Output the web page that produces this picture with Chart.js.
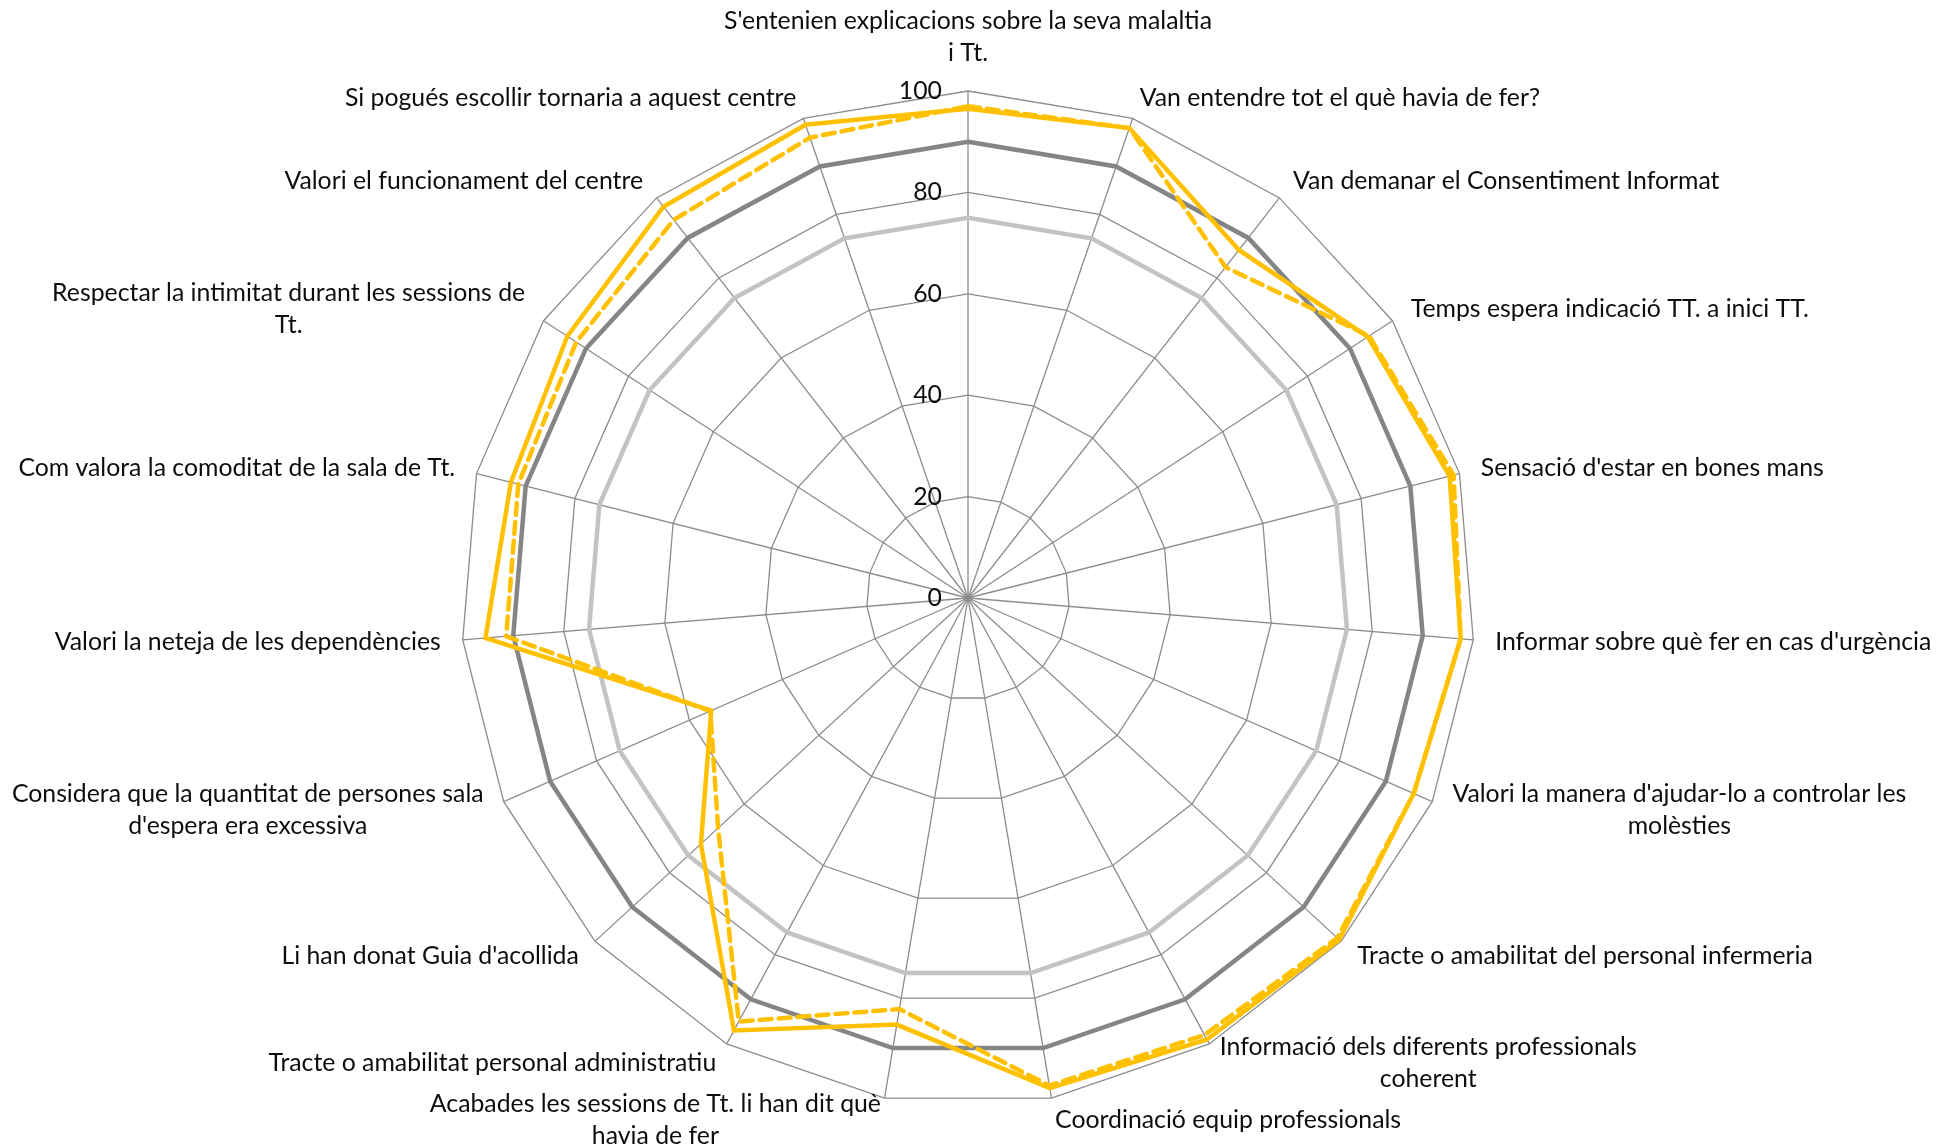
<!DOCTYPE html>
<html>
<head>
<meta charset="utf-8">
<script src="https://cdn.jsdelivr.net/npm/chart.js@4/dist/chart.umd.min.js"></script>
<style>
  html, body { margin: 0; padding: 0; background: #ffffff; }
  #wrap { width: 1950px; height: 1146px; position: relative; }
</style>
</head>
<body>
<div id="wrap"><canvas id="radar"></canvas></div>
<script>
// Survey items, clockwise from the top (arrays = wrapped lines)
const categories = [
  ["S'entenien explicacions sobre la seva malaltia", "i Tt."],
  "Van entendre tot el què havia de fer?",
  "Van demanar el Consentiment Informat",
  "Temps espera indicació TT. a inici TT.",
  "Sensació d'estar en bones mans",
  "Informar sobre què fer en cas d'urgència",
  ["Valori la manera d'ajudar-lo a controlar les", "molèsties"],
  "Tracte o amabilitat del personal infermeria",
  ["Informació dels diferents professionals", "coherent"],
  "Coordinació equip professionals",
  ["Acabades les sessions de Tt. li han dit què", "havia de fer"],
  "Tracte o amabilitat personal administratiu",
  "Li han donat Guia d'acollida",
  ["Considera que la quantitat de persones sala", "d'espera era excessiva"],
  "Valori la neteja de les dependències",
  "Com valora la comoditat de la sala de Tt.",
  ["Respectar la intimitat durant les sessions de", "Tt."],
  "Valori el funcionament del centre",
  "Si pogués escollir tornaria a aquest centre"
];

// Reference thresholds
const llindar75 = [75, 75, 75, 75, 75, 75, 75, 75, 75, 75, 75, 75, 75, 75, 75, 75, 75, 75, 75];
const llindar90 = [90, 90, 90, 90, 90, 90, 90, 90, 90, 90, 90, 90, 90, 90, 90, 90, 90, 90, 90];

// Satisfaction results (%)
const resultatActual = [96.5, 98, 87, 94.2, 98, 97.5, 96, 99.5, 99, 98, 85.3, 97, 71.6, 55.3, 95.5, 93, 94.4, 97.8, 98.7];
const resultatAnterior = [97, 98, 82.7, 94.5, 98.8, 97.5, 96, 99, 98, 97.5, 82.2, 95, 67, 55.5, 91.4, 91.5, 92.3, 94.5, 96];

// Radial axis range
const escalaMin = 0;
const escalaMax = 100;
const escalaPas = 20;

const FONT = '24.8px Lato, "Open Sans", sans-serif';
const LINE_H = 32;

// Draws the wrapped item labels around the web and the value labels on the vertical spoke
const axisText = {
  id: 'axisText',
  afterDraw(chart) {
    const s = chart.scales.r;
    const ctx = chart.ctx;
    ctx.save();
    ctx.font = FONT;
    ctx.fillStyle = '#0d0d0d';
    ctx.textAlign = 'center';
    ctx.textBaseline = 'middle';
    categories.forEach((lab, i) => {
      const lines = Array.isArray(lab) ? lab : [lab];
      const p = s.getPointPosition(i, s.drawingArea + 22);
      const bw = Math.max(...lines.map(l => ctx.measureText(l).width));
      const bh = lines.length * LINE_H;
      const dx = p.x - s.xCenter;
      let left, top;
      if (Math.abs(dx) < 2) {
        left = p.x - bw / 2;
        top = p.y < s.yCenter ? p.y - bh : p.y;
      } else {
        left = dx > 0 ? p.x : p.x - bw;
        top = p.y - bh / 2;
      }
      lines.forEach((l, k) => ctx.fillText(l, left + bw / 2, top + LINE_H * k + LINE_H / 2));
    });
    ctx.textAlign = 'right';
    s.ticks.forEach(t => {
      const d = s.getDistanceFromCenterForValue(t.value);
      ctx.fillText(String(t.value), s.xCenter - 26, s.yCenter - d);
    });
    ctx.restore();
  }
};

const gridColor = '#8c8c8c';

new Chart(document.getElementById('radar'), {
  type: 'radar',
  data: {
    labels: categories,
    datasets: [
      { label: 'Resultat anterior', data: resultatAnterior, borderColor: '#FFC000', backgroundColor: 'transparent',
        borderWidth: 4.5, borderDash: [12, 7], borderCapStyle: 'round', fill: false },
      { label: 'Resultat actual', data: resultatActual, borderColor: '#FFC000', backgroundColor: 'transparent',
        borderWidth: 4.5, fill: false },
      { label: 'Llindar 90', data: llindar90, borderColor: '#858585', backgroundColor: 'transparent',
        borderWidth: 4.5, fill: false },
      { label: 'Llindar 75', data: llindar75, borderColor: '#c3c3c3', backgroundColor: 'transparent',
        borderWidth: 4.5, fill: false }
    ]
  },
  options: {
    responsive: true,
    maintainAspectRatio: false,
    animation: false,
    devicePixelRatio: 1,
    layout: { padding: { top: 91, bottom: 41, left: 0, right: 14 } },
    plugins: { legend: { display: false }, tooltip: { enabled: false } },
    elements: {
      point: { radius: 0, hoverRadius: 0 },
      line: { tension: 0 }
    },
    scales: {
      r: {
        min: escalaMin,
        max: escalaMax,
        ticks: { display: false, stepSize: escalaPas },
        grid: { color: gridColor, lineWidth: 1.3, circular: false },
        angleLines: { color: gridColor, lineWidth: 1.3 },
        pointLabels: { display: false }
      }
    }
  },
  plugins: [axisText]
});
</script>
</body>
</html>
